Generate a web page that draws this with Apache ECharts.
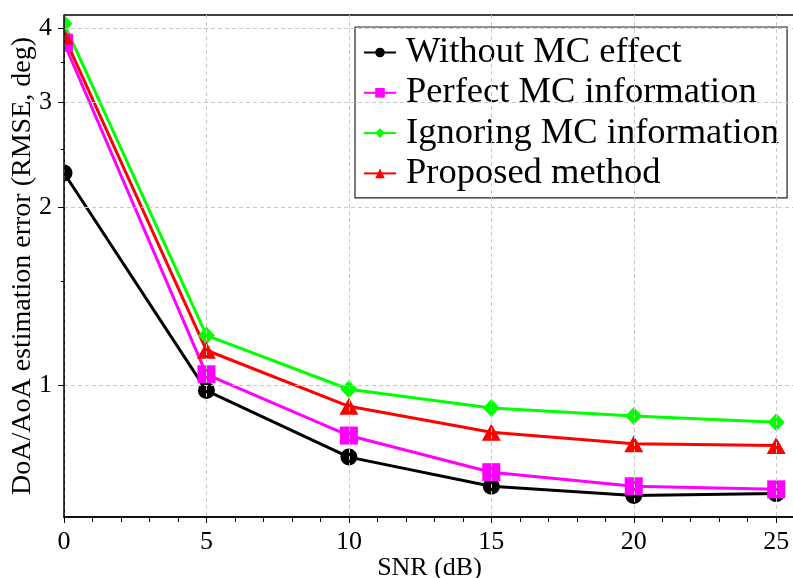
<!DOCTYPE html>
<html>
<head>
<meta charset="utf-8">
<script src="https://cdn.jsdelivr.net/npm/echarts@6/dist/echarts.min.js"></script>
<style>
html,body{margin:0;padding:0;background:#fff;}
#chart{width:793px;height:578px;}
</style>
</head>
<body>
<div id="chart"></div>
<script>
// ---- data ----
var snr = [0, 5, 10, 15, 20, 25];
var withoutMC = [2.28, 0.98, 0.757, 0.676, 0.652, 0.657];
var perfectMC = [3.78, 1.044, 0.823, 0.714, 0.676, 0.668];
var ignoringMC = [4.07, 1.214, 0.985, 0.916, 0.888, 0.867];
var proposed = [3.88, 1.146, 0.922, 0.834, 0.797, 0.792];
var seriesNames = ['Without MC effect', 'Perfect MC information', 'Ignoring MC information', 'Proposed method'];
var yLabelValues = [1, 2, 3, 4];
var yMinorValues = [1.5, 2.5, 3.5];
var xLabelValues = [0, 5, 10, 15, 20, 25];

function pairs(v) { return snr.map(function (x, i) { return [x, v[i]]; }); }

var FONT = 'Liberation Serif';
var chart = echarts.init(document.getElementById('chart'), null, { renderer: 'canvas' });

function mkSeries(name, data, color, symbol, size) {
  return {
    name: name, type: 'line', data: pairs(data),
    symbol: symbol, symbolSize: size, showAllSymbol: true,
    lineStyle: { color: color, width: 3 },
    itemStyle: { color: color },
    emphasis: { disabled: true },
    animation: false, clip: false, z: 3
  };
}

var option = {
  animation: false,
  grid: { left: 64, top: 15, right: -2, bottom: 61, show: true, borderColor: '#000', borderWidth: 1.5, containLabel: false, outerBoundsMode: 'none' },
  legend: {
    orient: 'vertical', left: 355, top: 27,
    padding: [7, 8, 6, 8], itemGap: 3.3,
    itemWidth: 32, itemHeight: 12,
    borderColor: '#222', borderWidth: 1.2,
    textStyle: { fontFamily: FONT, fontSize: 36.5, color: '#000', padding: [0, 0, 0, 5] },
    data: seriesNames
  },
  xAxis: {
    type: 'value', min: 0, max: 25.66, interval: 5, z: 100,
    name: 'SNR (dB)', nameLocation: 'middle', nameGap: 38, nameMoveOverlap: false,
    nameTextStyle: { fontFamily: FONT, fontSize: 26, color: '#000' },
    axisLine: { show: true, lineStyle: { color: '#000', width: 1.5 } },
    axisTick: { show: true, length: 6, lineStyle: { color: '#000', width: 1 } },
    minorTick: { show: true, splitNumber: 5, length: 5, lineStyle: { color: '#000', width: 1 } },
    axisLabel: { fontFamily: FONT, fontSize: 26, color: '#000', margin: 12, customValues: xLabelValues },
    splitLine: { show: true, lineStyle: { color: '#c8c8c8', type: [4, 3], width: 1 } }
  },
  yAxis: [{
    type: 'log', logBase: 10, min: 0.6, max: 4.21, z: 100,
    name: 'DoA/AoA estimation error (RMSE, deg)', nameLocation: 'middle', nameGap: 27, nameMoveOverlap: false,
    nameTextStyle: { fontFamily: FONT, fontSize: 28, color: '#000' },
    axisLine: { show: true, lineStyle: { color: '#000', width: 1.5 } },
    axisTick: { show: true, length: 6, customValues: yLabelValues, lineStyle: { color: '#000', width: 1 } },
    axisLabel: { fontFamily: FONT, fontSize: 26, color: '#000', margin: 12, customValues: yLabelValues },
    splitLine: { show: true, lineStyle: { color: '#c8c8c8', type: [4, 3], width: 1 } }
  }, {
    type: 'log', logBase: 10, min: 0.6, max: 4.21, position: 'left', z: 100,
    axisLine: { show: false },
    axisTick: { show: true, length: 3, customValues: yMinorValues, lineStyle: { color: '#000', width: 1 } },
    axisLabel: { show: false },
    splitLine: { show: false }
  }],
  series: [
    mkSeries(seriesNames[0], withoutMC, '#000000', 'circle', 17),
    mkSeries(seriesNames[1], perfectMC, '#ff00ff', 'rect', 18),
    mkSeries(seriesNames[2], ignoringMC, '#00ff00', 'diamond', [17, 18]),
    mkSeries(seriesNames[3], proposed, '#ff0000', 'triangle', [19, 17])
  ]
};
chart.setOption(option);

// mask the part of the markers that falls left of the plot area (the reference clips them at the axis)
var p0 = chart.convertToPixel({ gridIndex: 0 }, [0, 4.21]);
var p1 = chart.convertToPixel({ gridIndex: 0 }, [0, 0.6]);
chart.setOption({
  graphic: {
    z: 50,
    elements: [{
      type: 'rect', z: 50, silent: true,
      shape: { x: p0[0] - 11, y: p0[1] - 12, width: 11, height: p1[1] - p0[1] + 12 },
      style: { fill: '#ffffff' }
    }]
  }
});
</script>
</body>
</html>
